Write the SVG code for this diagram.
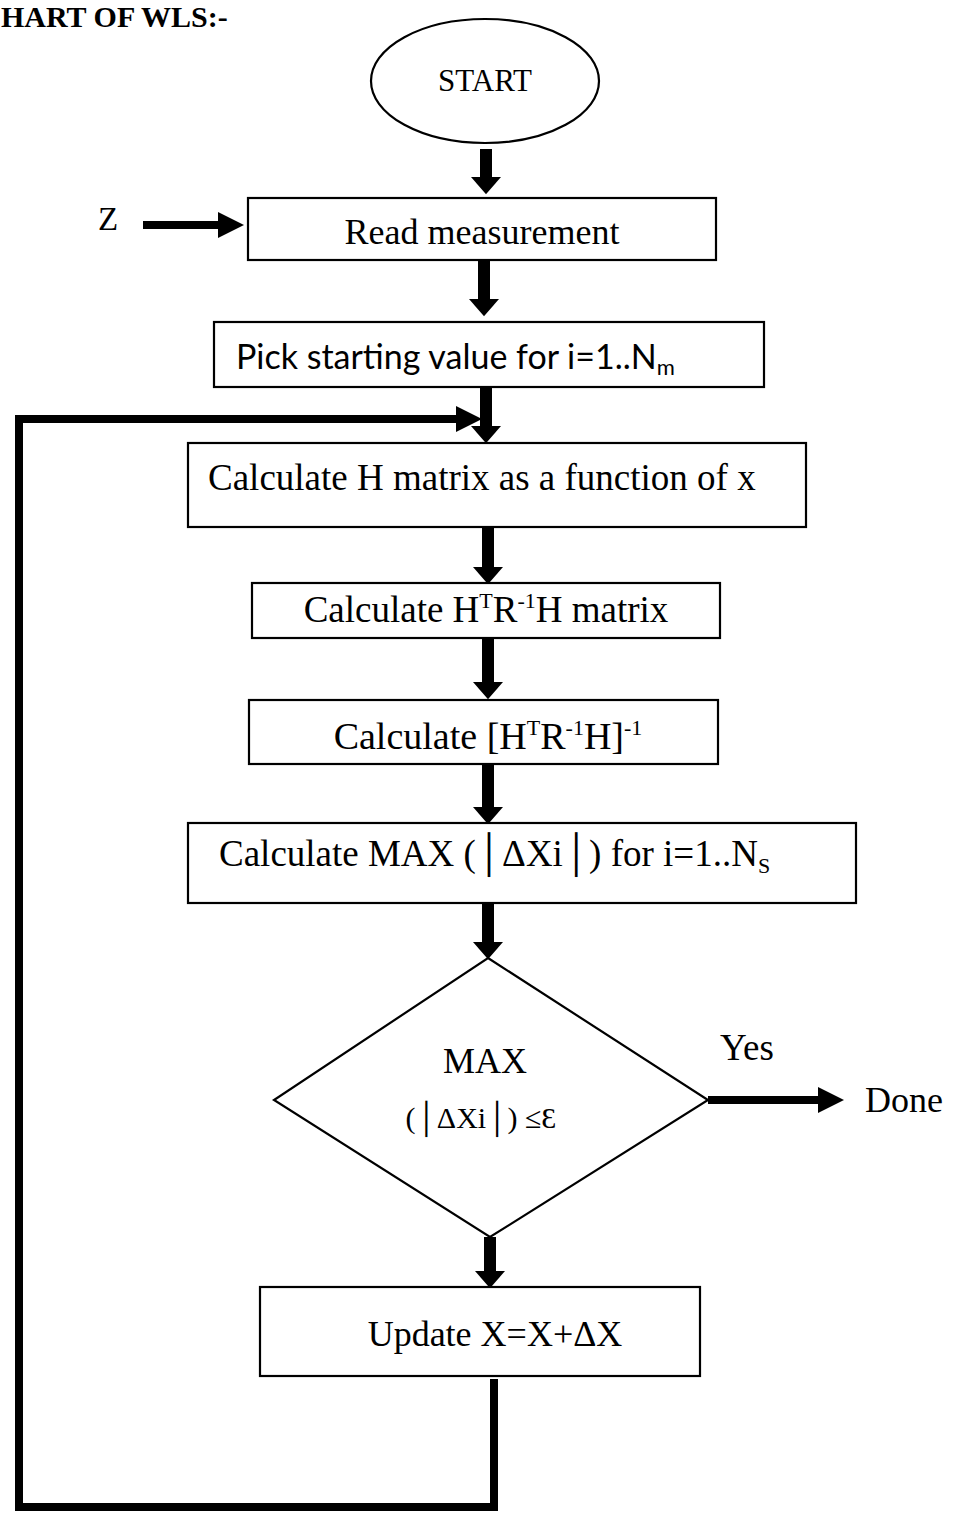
<svg xmlns="http://www.w3.org/2000/svg" width="953" height="1516" viewBox="0 0 953 1516">
<style>
.t{font-family:"Liberation Serif","Times New Roman",serif;fill:#000}
.s{font-family:Lato,"Open Sans","Liberation Sans",sans-serif;fill:#000}
.box{fill:#fff;stroke:#000;stroke-width:2.2}
.va{stroke:#000;stroke-width:12;fill:none}
.ha{stroke:#000;stroke-width:8;fill:none}
.ln{stroke:#000;stroke-width:8;fill:none;stroke-linecap:square}
</style>
<defs>
<marker id="hv" markerUnits="userSpaceOnUse" markerWidth="30" markerHeight="30" refX="0" refY="14" orient="auto" viewBox="0 0 16 28"><path d="M0,0 L16,14 L0,28 z" fill="#000"/></marker>
<marker id="hh" markerUnits="userSpaceOnUse" markerWidth="26" markerHeight="26" refX="0" refY="12" orient="auto" viewBox="0 0 24 24"><path d="M0,0 L24,12 L0,24 z" fill="#000"/></marker>
</defs>
<rect width="953" height="1516" fill="#fff"/>
<text class="t" x="1" y="27" font-size="30" font-weight="bold">HART OF WLS:-</text>

<g id="connectors">
<line class="va" x1="486" y1="149" x2="486" y2="177" marker-end="url(#hv)"/>
<line class="va" x1="484" y1="256" x2="484" y2="299" marker-end="url(#hv)"/>
<line class="va" x1="486" y1="387" x2="486" y2="426" marker-end="url(#hv)"/>
<line class="va" x1="488" y1="527" x2="488" y2="567" marker-end="url(#hv)"/>
<line class="va" x1="488" y1="638" x2="488" y2="682" marker-end="url(#hv)"/>
<line class="va" x1="488" y1="764" x2="488" y2="807" marker-end="url(#hv)"/>
<line class="va" x1="488" y1="903" x2="488" y2="942" marker-end="url(#hv)"/>
<line class="va" x1="490" y1="1237" x2="490" y2="1271" marker-end="url(#hv)"/>
<line class="ha" x1="143" y1="225" x2="218" y2="225" marker-end="url(#hh)"/>
<line class="ha" x1="708" y1="1100" x2="818" y2="1100" marker-end="url(#hh)"/>
<polyline class="ln" points="494,1383 494,1507 19,1507 19,420"/>
<line class="ha" x1="15" y1="419" x2="456" y2="419" marker-end="url(#hh)"/>
</g>

<g id="start">
<ellipse cx="485" cy="81" rx="114" ry="62" fill="#fff" stroke="#000" stroke-width="2.2"/>
<text class="t" x="485" y="91" font-size="31" text-anchor="middle">START</text>
</g>
<g id="z">
<text class="t" x="98" y="230" font-size="33">Z</text>
</g>
<g id="read">
<rect class="box" x="248" y="198" width="468" height="62"/>
<text class="t" x="482" y="244" font-size="36" text-anchor="middle">Read measurement</text>
</g>
<g id="pick">
<rect class="box" x="214" y="322" width="550" height="65"/>
<text class="s" x="236" y="369" font-size="34">Pick starting value for i=1..N<tspan font-size="22" dy="6">m</tspan></text>
</g>
<g id="calch">
<rect class="box" x="188" y="443" width="618" height="84"/>
<text class="t" x="208" y="490" font-size="37">Calculate H matrix as a function of x</text>
</g>
<g id="htrh">
<rect class="box" x="252" y="583" width="468" height="55"/>
<text class="t" x="486" y="622" font-size="37" text-anchor="middle">Calculate H<tspan font-size="22" dy="-14">T</tspan><tspan dy="14">R</tspan><tspan font-size="22" dy="-14">-1</tspan><tspan dy="14">H matrix</tspan></text>
</g>
<g id="inv">
<rect class="box" x="249" y="700" width="469" height="64"/>
<text class="t" x="488" y="749" font-size="38" text-anchor="middle">Calculate [H<tspan font-size="22" dy="-14">T</tspan><tspan dy="14">R</tspan><tspan font-size="22" dy="-14">-1</tspan><tspan dy="14">H]</tspan><tspan font-size="22" dy="-14">-1</tspan></text>
</g>
<g id="max">
<rect class="box" x="188" y="823" width="668" height="80"/>
<text class="t" x="219" y="866" font-size="37">Calculate MAX (│ΔXi│) for i=1..N<tspan font-size="22" dy="7">S</tspan></text>
</g>
<g id="decision">
<polygon points="488,958 708,1100 490,1237 274,1100" fill="#fff" stroke="#000" stroke-width="2.2"/>
<text class="t" x="485" y="1073" font-size="36" text-anchor="middle">MAX</text>
<text class="t" x="481" y="1128" font-size="30" text-anchor="middle">(│ΔXi│) ≤Ɛ</text>
</g>
<g id="yes">
<text class="t" x="720" y="1060" font-size="37">Yes</text>
</g>
<g id="done">
<text class="t" x="865" y="1112" font-size="36">Done</text>
</g>
<g id="update">
<rect class="box" x="260" y="1287" width="440" height="89"/>
<text class="t" x="495" y="1346" font-size="36" text-anchor="middle">Update X=X+ΔX</text>
</g>
</svg>
